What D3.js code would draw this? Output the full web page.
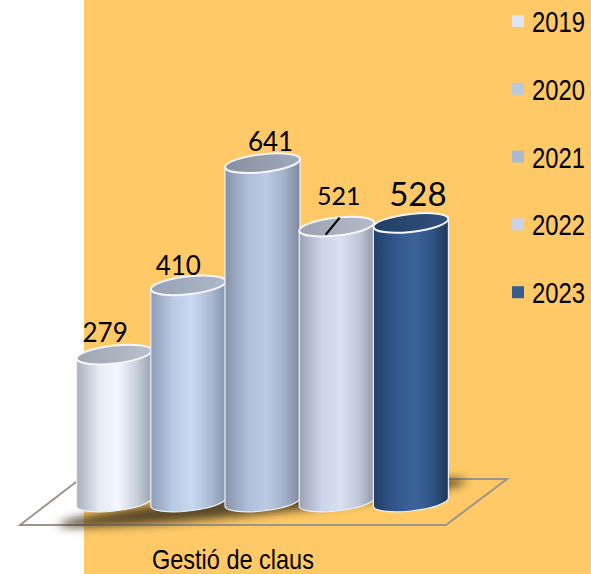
<!DOCTYPE html>
<html>
<head>
<meta charset="utf-8">
<script src="https://cdn.jsdelivr.net/npm/d3@7"></script>
<style>
  html, body { margin: 0; padding: 0; background: #ffffff; }
  svg { display: block; }
</style>
</head>
<body>
<svg id="chart" width="591" height="574"></svg>
<script>
// ---- data ----
const category = "Gestió de claus";
const years = ["2019", "2020", "2021", "2022", "2023"];
const values = [279, 410, 641, 521, 528];
const yDomain = [0, 700];

// ---- styles ----
const bodyColors = {
  "2019": ["#a7afbd", "#e4eaf3", "#f3f7fe", "#c9d0dc", "#9aa2b1"],
  "2020": ["#8e9cb5", "#b9cbe4", "#c8daf1", "#a9b9d2", "#8594ad"],
  "2021": ["#8592a9", "#aebdd8", "#bccbe5", "#a2b0c9", "#7c879c"],
  "2022": ["#9ba2b4", "#cbd4e8", "#d8e0f1", "#bfc6d8", "#9097a9"],
  "2023": ["#223f66", "#33588c", "#3c649b", "#2f5283", "#1d3658"]
};
const topColors = {
  "2019": ["#9fa6b3", "#b9c0cb"],
  "2020": ["#96a1b5", "#aeb8ca"],
  "2021": ["#86919f", "#a0aabd"],
  "2022": ["#9ca2b2", "#b5bbc9"],
  "2023": ["#223e65", "#31507c"]
};
const swatchColors = {
  "2019": "#dfe6f1", "2020": "#b9c9de", "2021": "#abb9d2",
  "2022": "#c9d2e6", "2023": "#385c8f"
};
const labelStyle = {
  "2019": { dx: -9, dy: -13, size: 26 },
  "2020": { dx: -10, dy: -10, size: 26 },
  "2021": { dx: 8, dy: -12, size: 26 },
  "2022": { dx: 2, dy: -22, size: 25 },
  "2023": { dx: 7, dy: -17, size: 33 }
};
const narrowFont = "'Liberation Sans Narrow', 'Arial Narrow', 'Liberation Sans', Arial, sans-serif";

const svg = d3.select("#chart");
const defs = svg.append("defs");

// background
svg.append("rect").attr("x", 0).attr("y", 0).attr("width", 591).attr("height", 574).attr("fill", "#ffffff");
svg.append("rect").attr("x", 84).attr("y", 0).attr("width", 507).attr("height", 574).attr("fill", "#fec966");

// scales
const x = d3.scaleBand().domain(years).range([77, 448]).padding(0);
const y = d3.scaleLinear().domain(yDomain).range([502, 132]);
const r = 37.5, ry = 9, skew = -6;

// gradients
years.forEach(yr => {
  const g = defs.append("linearGradient").attr("id", "body" + yr)
    .attr("x1", "0").attr("x2", "1").attr("y1", "0").attr("y2", "0");
  const stops = [0, 0.3, 0.55, 0.8, 1];
  bodyColors[yr].forEach((c, i) => g.append("stop").attr("offset", stops[i]).attr("stop-color", c));
  const t = defs.append("linearGradient").attr("id", "top" + yr)
    .attr("x1", "0").attr("x2", "1").attr("y1", "0").attr("y2", "0");
  t.append("stop").attr("offset", 0).attr("stop-color", topColors[yr][0]);
  t.append("stop").attr("offset", 1).attr("stop-color", topColors[yr][1]);
});
const blur = defs.append("filter").attr("id", "blur").attr("x", "-20%").attr("y", "-100%").attr("width", "140%").attr("height", "300%");
blur.append("feGaussianBlur").attr("stdDeviation", 5);

// floor
svg.append("polygon")
  .attr("points", [[20, 525], [80, 479], [507, 479], [446, 525]].map(p => p.join(",")).join(" "))
  .attr("fill", "none").attr("stroke", "#9d958c").attr("stroke-width", 2);

// shadow
svg.append("g")
  .attr("transform", `translate(${(x(years[0]) + x(years[4]) + x.bandwidth()) / 2},0) skewY(${skew})`)
  .append("ellipse")
  .attr("cx", 0).attr("cy", y(0) + 1)
  .attr("rx", (x(years[4]) + x.bandwidth() - x(years[0])) / 2 + 18).attr("ry", 11)
  .attr("fill", "#4a3a20").attr("opacity", 0.9).attr("filter", "url(#blur)");

// cylinders
const data = years.map((yr, i) => ({ year: yr, value: values[i] }));
const cyl = svg.append("g").selectAll("g").data(data).join("g")
  .attr("transform", d => `translate(${x(d.year) + x.bandwidth() / 2},0) skewY(${skew})`);

cyl.append("path")
  .attr("d", d => {
    const yt = y(d.value), yb = y(0);
    return `M${-r},${yt} L${-r},${yb} A${r},${ry} 0 0 0 ${r},${yb} L${r},${yt} Z`;
  })
  .attr("fill", d => `url(#body${d.year})`)
  .attr("stroke", "#eef0f4").attr("stroke-width", 1.2);

cyl.append("ellipse")
  .attr("cx", 0).attr("cy", d => y(d.value))
  .attr("rx", r).attr("ry", ry)
  .attr("fill", d => `url(#top${d.year})`)
  .attr("stroke", "#f6f7fa").attr("stroke-width", 2);

// value labels
const labels = svg.append("g");
data.forEach(d => {
  const cx = x(d.year) + x.bandwidth() / 2;
  const st = labelStyle[d.year];
  labels.append("text")
    .attr("x", cx + st.dx).attr("y", y(d.value) + st.dy)
    .attr("text-anchor", "middle")
    .attr("font-family", "Lato, 'Open Sans', sans-serif")
    .attr("font-size", st.size)
    .attr("fill", "#000")
    .text(d.value);
  if (d.year === "2022") {
    labels.append("line")
      .attr("x1", cx - 11).attr("y1", y(d.value) + 8)
      .attr("x2", cx + 3).attr("y2", y(d.value) - 9)
      .attr("stroke", "#000").attr("stroke-width", 2.2);
  }
});

// helper: fit text to a width by horizontal scaling
function fitText(sel, width) {
  sel.each(function () {
    const node = this;
    const w = node.getComputedTextLength();
    const tx = +node.getAttribute("x"), ty = +node.getAttribute("y");
    const k = w > 0 ? width / w : 1;
    node.setAttribute("x", 0);
    node.setAttribute("y", 0);
    const prev = node.getAttribute("transform") || "";
    node.setAttribute("transform", `${prev} translate(${tx},${ty}) scale(${k},1)`);
  });
}

// category label
const cat = svg.append("text")
  .attr("x", 152).attr("y", 569)
  .attr("font-family", narrowFont)
  .attr("font-size", 27)
  .attr("fill", "#000")
  .text(category);
fitText(cat, 162);

// legend
const legend = svg.append("g").selectAll("g").data(years).join("g")
  .attr("transform", (d, i) => `translate(512,${21 + i * 67.8})`);
legend.append("rect")
  .attr("x", 0).attr("y", -6).attr("width", 12).attr("height", 12)
  .attr("fill", d => swatchColors[d]);
const legText = legend.append("text")
  .attr("x", 20).attr("y", 11)
  .attr("font-family", narrowFont)
  .attr("font-size", 30)
  .attr("fill", "#000")
  .text(d => d);
fitText(legText, 53);
</script>
</body>
</html>
